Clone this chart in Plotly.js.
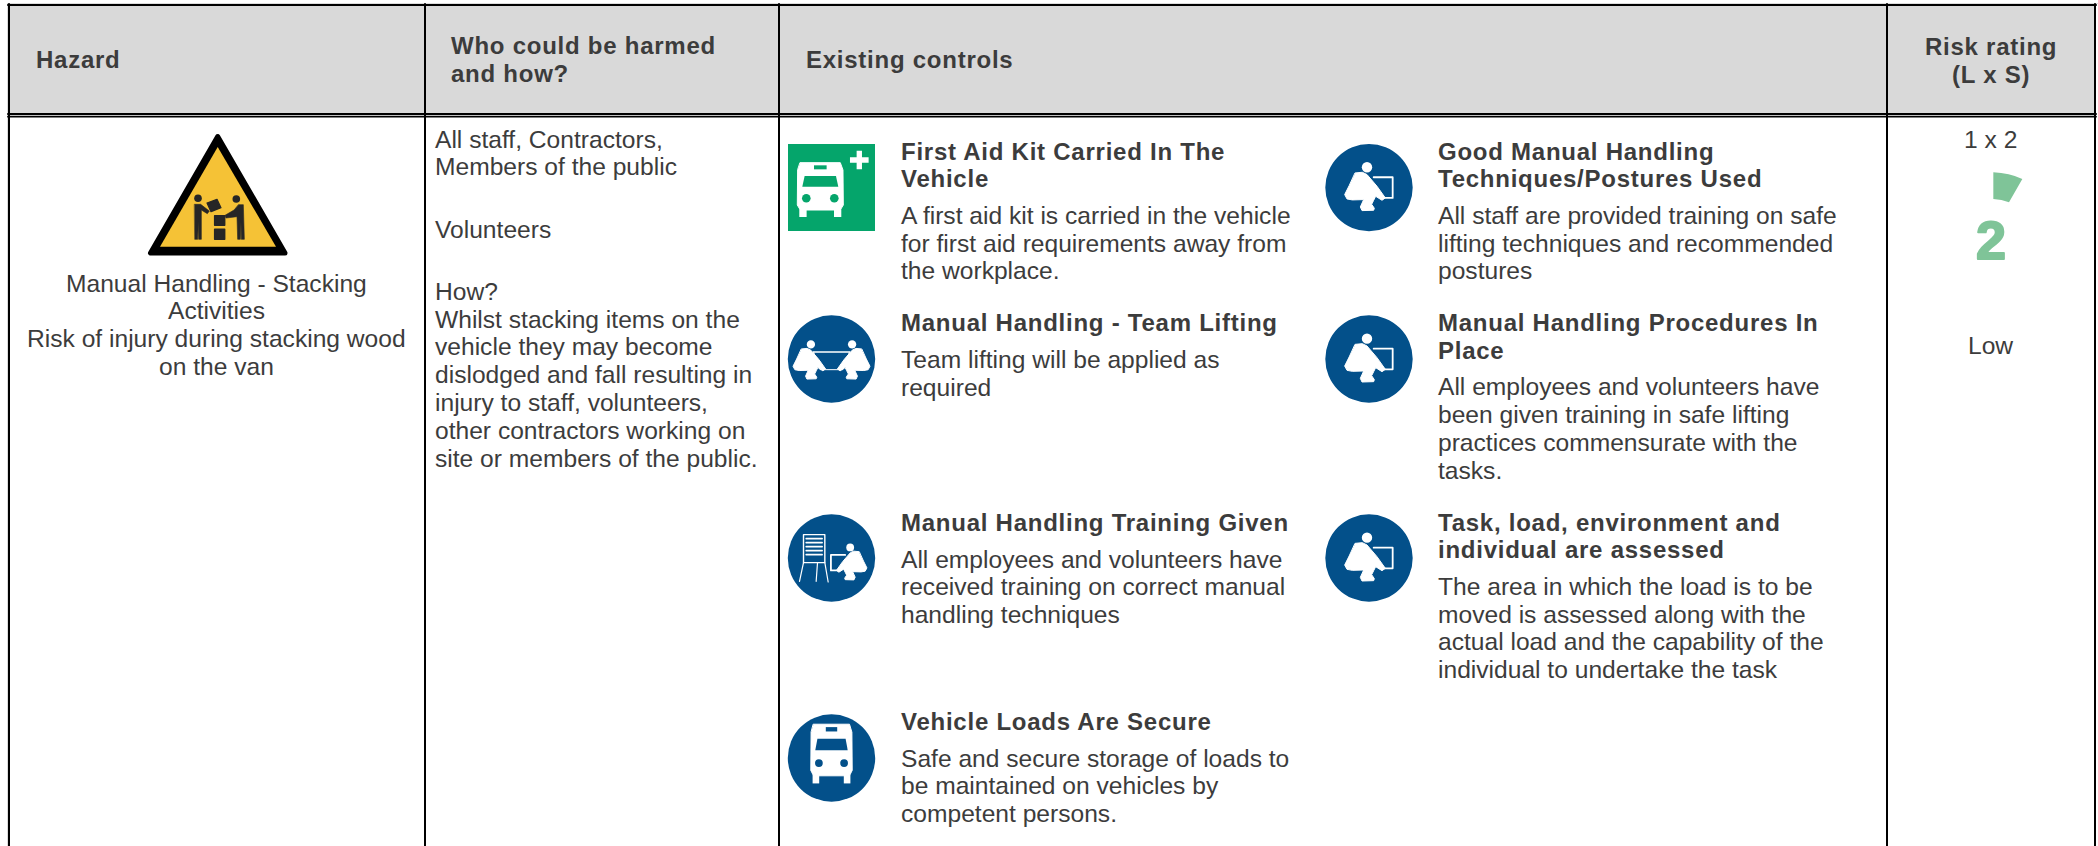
<!DOCTYPE html>
<html><head><meta charset="utf-8">
<script src="https://cdn.plot.ly/plotly-3.0.1.min.js"></script>
<style>
html,body{margin:0;padding:0;background:#fff;overflow:hidden}
.shapelayer path{stroke-linejoin:round;stroke-linecap:round}
.annotation-text[style*="font-weight: 700"]{letter-spacing:.75px}
.annotation-text[style*="font-size: 54px"]{letter-spacing:0;stroke:#7fc498;stroke-width:2px;stroke-linejoin:round}
</style></head><body><div id="chart" style="width:2098px;height:846px"></div>
<script>
// ---------- content ----------
const headerHazard = ['Hazard'];
const headerWho = ['Who could be harmed', 'and how?'];
const headerControls = ['Existing controls'];
const headerRisk = ['Risk rating', '(L x S)'];
const hazardLines = ['Manual Handling - Stacking', 'Activities', 'Risk of injury during stacking wood', 'on the van'];
const whoLines = ['All staff, Contractors,', 'Members of the public', 'Volunteers', 'How?',
  'Whilst stacking items on the', 'vehicle they may become', 'dislodged and fall resulting in',
  'injury to staff, volunteers,', 'other contractors working on', 'site or members of the public.'];
const controlTitles = [
  ['First Aid Kit Carried In The', 'Vehicle'],
  ['Manual Handling - Team Lifting'],
  ['Manual Handling Training Given'],
  ['Vehicle Loads Are Secure'],
  ['Good Manual Handling', 'Techniques/Postures Used'],
  ['Manual Handling Procedures In', 'Place'],
  ['Task, load, environment and', 'individual are assessed']];
const controlTexts = [
  ['A first aid kit is carried in the vehicle', 'for first aid requirements away from', 'the workplace.'],
  ['Team lifting will be applied as', 'required'],
  ['All employees and volunteers have', 'received training on correct manual', 'handling techniques'],
  ['Safe and secure storage of loads to', 'be maintained on vehicles by', 'competent persons.'],
  ['All staff are provided training on safe', 'lifting techniques and recommended', 'postures'],
  ['All employees and volunteers have', 'been given training in safe lifting', 'practices commensurate with the', 'tasks.'],
  ['The area in which the load is to be', 'moved is assessed along with the', 'actual load and the capability of the', 'individual to undertake the task']];
const riskScore = '1 x 2';
const riskValue = '2';
const riskLabel = 'Low';

// ---------- layout helpers ----------
const FONT = '"Liberation Sans", Arial, sans-serif';
const INK = '#3c3c3c', BLUE = '#03508a', GREEN = '#05a56b', RISK = '#7fc498', HEAD = '#d9d9d9';
const BODY = 24.6, TITLE = 24;
const shapes = [], annotations = [];

function text(str, x, y, opt = {}) {
  annotations.push({
    text: str, x, y, xref: 'x', yref: 'y', showarrow: false,
    xanchor: opt.anchor || 'left', yanchor: 'middle', align: opt.anchor === 'center' ? 'center' : 'left',
    borderpad: 0, borderwidth: 0,
    font: {family: FONT, size: opt.size || BODY, color: opt.color || INK, weight: opt.bold ? 700 : 400}
  });
}
function rect(x0, y0, x1, y1, fill) {
  shapes.push({type: 'rect', x0, y0, x1, y1, xref: 'x', yref: 'y', fillcolor: fill, line: {width: 0}});
}
function vline(x, y0, y1, w) { shapes.push({type: 'line', x0: x, x1: x, y0, y1, xref: 'x', yref: 'y', line: {color: '#000', width: w}}); }
function hline(y, x0, x1, w) { shapes.push({type: 'line', x0, x1, y0: y, y1: y, xref: 'x', yref: 'y', line: {color: '#000', width: w}}); }
function circle(cx, cy, r, fill) {
  shapes.push({type: 'circle', x0: cx - r, x1: cx + r, y0: cy - r, y1: cy + r, xref: 'x', yref: 'y', fillcolor: fill, line: {width: 0}});
}
// points are written in 3x icon units around an origin
function poly(cx, cy, pts, fill, lw = 0, stroke, closed = true, sx = 1, sy = 1) {
  const path = pts.map((p, i) => (i ? 'L' : 'M') + (cx + sx * p[0] / 3).toFixed(2) + ',' + (cy + sy * p[1] / 3).toFixed(2)).join(' ') + (closed ? ' Z' : '');
  shapes.push({type: 'path', path, xref: 'x', yref: 'y', fillcolor: closed ? fill : 'rgba(0,0,0,0)',
    line: lw ? {color: stroke || fill, width: lw} : {width: 0}});
}
const LIFT_BODY = [[-41,-44],[-20,-46],[-6,-39],[24,-4],[49,31],[39,38],[20,26],[14,38],[8,50],[16,62],[14,68],[-21,69],[-26,58],[-16,36],[-50,37],[-66,34],[-73,21],[-60,-5]];
const LIFT_BOX = [[39,31],[71,31],[71,-31],[14,-31]];
function lifter(cx, cy, ox, oy, m = 1, s = 1, box = true) {
  const X = cx + ox / 3, Y = cy + oy / 3;
  circle(X + m * s * -6 / 3, Y + s * -61 / 3, 5.2 * s, '#fff');
  poly(X, Y, LIFT_BODY, '#fff', 1, '#fff', true, m * s, s);
  if (box) poly(X, Y, LIFT_BOX, 'none', 1.8, '#fff', false, m * s, s);
}
function busFront(cx, cy, bg, sx = 1, sy = 1) {
  poly(cx, cy, [[-60,-82],[60,-82],[68,-60],[69,45],[60,60],[-60,60],[-69,45],[-68,-60]], '#fff', 1, '#fff', true, sx, sy);
  poly(cx, cy, [[-47,-42],[47,-42],[54,-10],[-54,-10]], bg, 0, null, true, sx, sy);
  poly(cx, cy, [[-19,-74],[19,-74],[19,-62],[-19,-62]], bg, 0, null, true, sx, sy);
  circle(cx - 14 * sx, cy + 8.3 * sy, 4.3 * sx, bg); circle(cx + 14 * sx, cy + 8.3 * sy, 4.3 * sx, bg);
  poly(cx, cy, [[-63,58],[-41,58],[-41,81],[-63,81]], '#fff', 0, null, true, sx, sy);
  poly(cx, cy, [[41,58],[63,58],[63,81],[41,81]], '#fff', 0, null, true, sx, sy);
}

// ---------- table frame ----------
const L = 9, C1 = 425, C2 = 779, C3 = 1887, R = 2095, TOP = 5, HB = 114;
rect(7, 3, 2098, 4, '#dcdcdc');
rect(7, 3, 8, 846, '#dcdcdc');
rect(L, TOP, R, HB, HEAD);
hline(TOP, L - 1, R + 1, 2);
hline(HB, L - 1, R + 1, 2);
hline(HB + 2.7, L - 1, R + 1, 1.8);
[L, C1, C2, C3, R].forEach(x => vline(x, TOP - 1, 846, 2));

// ---------- header ----------
const headLine = 28;
text(headerHazard[0], 36, 59, {bold: true, size: TITLE});
headerWho.forEach((t, i) => text(t, 451, 45 + i * headLine, {bold: true, size: TITLE}));
text(headerControls[0], 805.5, 59, {bold: true, size: TITLE});
headerRisk.forEach((t, i) => text(t, 1990.5, 46 + i * headLine, {bold: true, size: TITLE, anchor: 'center'}));

// ---------- hazard column ----------
const tc = 217.7;
shapes.push({type: 'path', path: `M${tc},136.5 L150.5,253 L285,253 Z`, xref: 'x', yref: 'y', fillcolor: '#000', line: {color: '#000', width: 5}});
shapes.push({type: 'path', path: `M${tc},147 L160,246.7 L276,246.7 Z`, xref: 'x', yref: 'y', fillcolor: '#f5c236', line: {width: 0}});
const T = (pts, lw) => poly(130, 120, pts, '#262626', lw, '#262626');
circle(198, 198.3, 3.8, '#262626'); circle(236.3, 199, 3.8, '#262626');
T([[194,253],[212,253],[238,273],[232,281],[214,270],[214,358],[206,358],[205,305],[203,358],[195,358]], 0.6);
T([[326,254],[340,254],[343,358],[334,358],[333,305],[331,358],[323,358],[321,290],[288,294],[285,286],[312,270]], 0.6);
T([[231,249],[261,238],[273,263],[243,275]], 1.2);
T([[254,287],[284,287],[284,316],[254,316]], 1.5);
T([[254,328],[284,328],[284,358],[254,358]], 1.5);
hazardLines.forEach((t, i) => text(t, tc - 1, 283 + i * 27.7, {anchor: 'center'}));

// ---------- who column ----------
const whoY = [139, 166, 229, 291, 319, 346.5, 374.5, 402.5, 430.5, 458.5];
whoLines.forEach((t, i) => text(t, 434.7, whoY[i]));

// ---------- controls ----------
const ICON_X = [831.5, 1369], TEXT_X = [900.5, 1438];
const ROW_TITLE = [151, 322.5, 522, 721];
const ROW_ICON = [187.6, 359, 558, 758];
const ICON_R = 43.7;
const colOf = [0, 0, 0, 0, 1, 1, 1], rowOf = [0, 1, 2, 3, 0, 1, 2];
controlTitles.forEach((lines, i) => {
  const x = TEXT_X[colOf[i]], y0 = ROW_TITLE[rowOf[i]];
  lines.forEach((t, j) => text(t, x, y0 + j * 27.8, {bold: true, size: TITLE}));
  const dy = y0 + (lines.length - 1) * 27.4 + 37;
  controlTexts[i].forEach((t, j) => text(t, x, dy + j * 27.7));
});
// first aid sign
rect(788, 144, 875, 231, GREEN);
busFront(820.3, 190, GREEN);
poly(859.3, 160, [[-28,-8],[-8,-8],[-8,-28],[8,-28],[8,-8],[28,-8],[28,8],[8,8],[8,28],[-8,28],[-8,8],[-28,8]], '#fff');
// team lifting
const tl = ROW_ICON[1];
circle(ICON_X[0], tl, ICON_R, BLUE);
lifter(ICON_X[0], tl, -57, 5, 1, 0.8, false);
lifter(ICON_X[0], tl, 57, 5, -1, 0.8, false);
poly(ICON_X[0], tl, [[-54,-21],[54,-21]], 'none', 1.6, '#fff', false);
poly(ICON_X[0], tl, [[-54,-21],[-34,32],[34,32],[54,-21]], 'none', 1, '#fff', false);
// training
const tr = ROW_ICON[2];
circle(ICON_X[0], tr, ICON_R, BLUE);
poly(ICON_X[0], tr, [[-84,-70],[-20,-70],[-20,14],[-84,14]], 'none', 1.4, '#fff');
[-58, -46, -34, -22, -10].forEach(y => poly(ICON_X[0], tr, [[-76, y],[-28, y]], 'none', 1.6, '#fff', false));
poly(ICON_X[0], tr, [[-84,14],[-96,70]], 'none', 1.2, '#fff', false);
poly(ICON_X[0], tr, [[-42,14],[-46,70]], 'none', 1.2, '#fff', false);
poly(ICON_X[0], tr, [[-20,14],[-10,72]], 'none', 1.2, '#fff', false);
lifter(ICON_X[0], tr, 51.5, 14, -1, 0.75);
// vehicle loads
circle(ICON_X[0], ROW_ICON[3], ICON_R, BLUE);
busFront(ICON_X[0], ROW_ICON[3] - 4, BLUE, 0.9, 1.09);
// manual handling icons
[0, 1, 2].forEach(r => {
  circle(ICON_X[1], ROW_ICON[r], ICON_R, BLUE);
  lifter(ICON_X[1], ROW_ICON[r], 0, 0);
});

// ---------- risk ----------
text(riskScore, 1990.5, 139, {anchor: 'center'});
const sx = x => 1860 + x / 3, sy = y => y / 3;
shapes.push({type: 'path', path: `M${sx(400)},${sy(517)} Q${sx(448)},${sy(519)} ${sx(487)},${sy(537)} L${sx(447)},${sy(607)} Q${sx(425)},${sy(598)} ${sx(400)},${sy(597)} Z`, xref: 'x', yref: 'y', fillcolor: RISK, line: {width: 0}});
text(riskValue, 1990.5, 240, {anchor: 'center', bold: true, size: 54, color: RISK});
text(riskLabel, 1990.5, 345, {anchor: 'center'});

const layout = {
  width: 2098, height: 846, margin: {l: 0, r: 0, t: 0, b: 0, pad: 0},
  paper_bgcolor: '#fff', plot_bgcolor: '#fff', showlegend: false, dragmode: false,
  xaxis: {range: [0, 2098], visible: false, fixedrange: true},
  yaxis: {range: [846, 0], visible: false, fixedrange: true},
  shapes, annotations
};
Plotly.newPlot('chart', [], layout, {displayModeBar: false, staticPlot: true});
</script></body></html>
